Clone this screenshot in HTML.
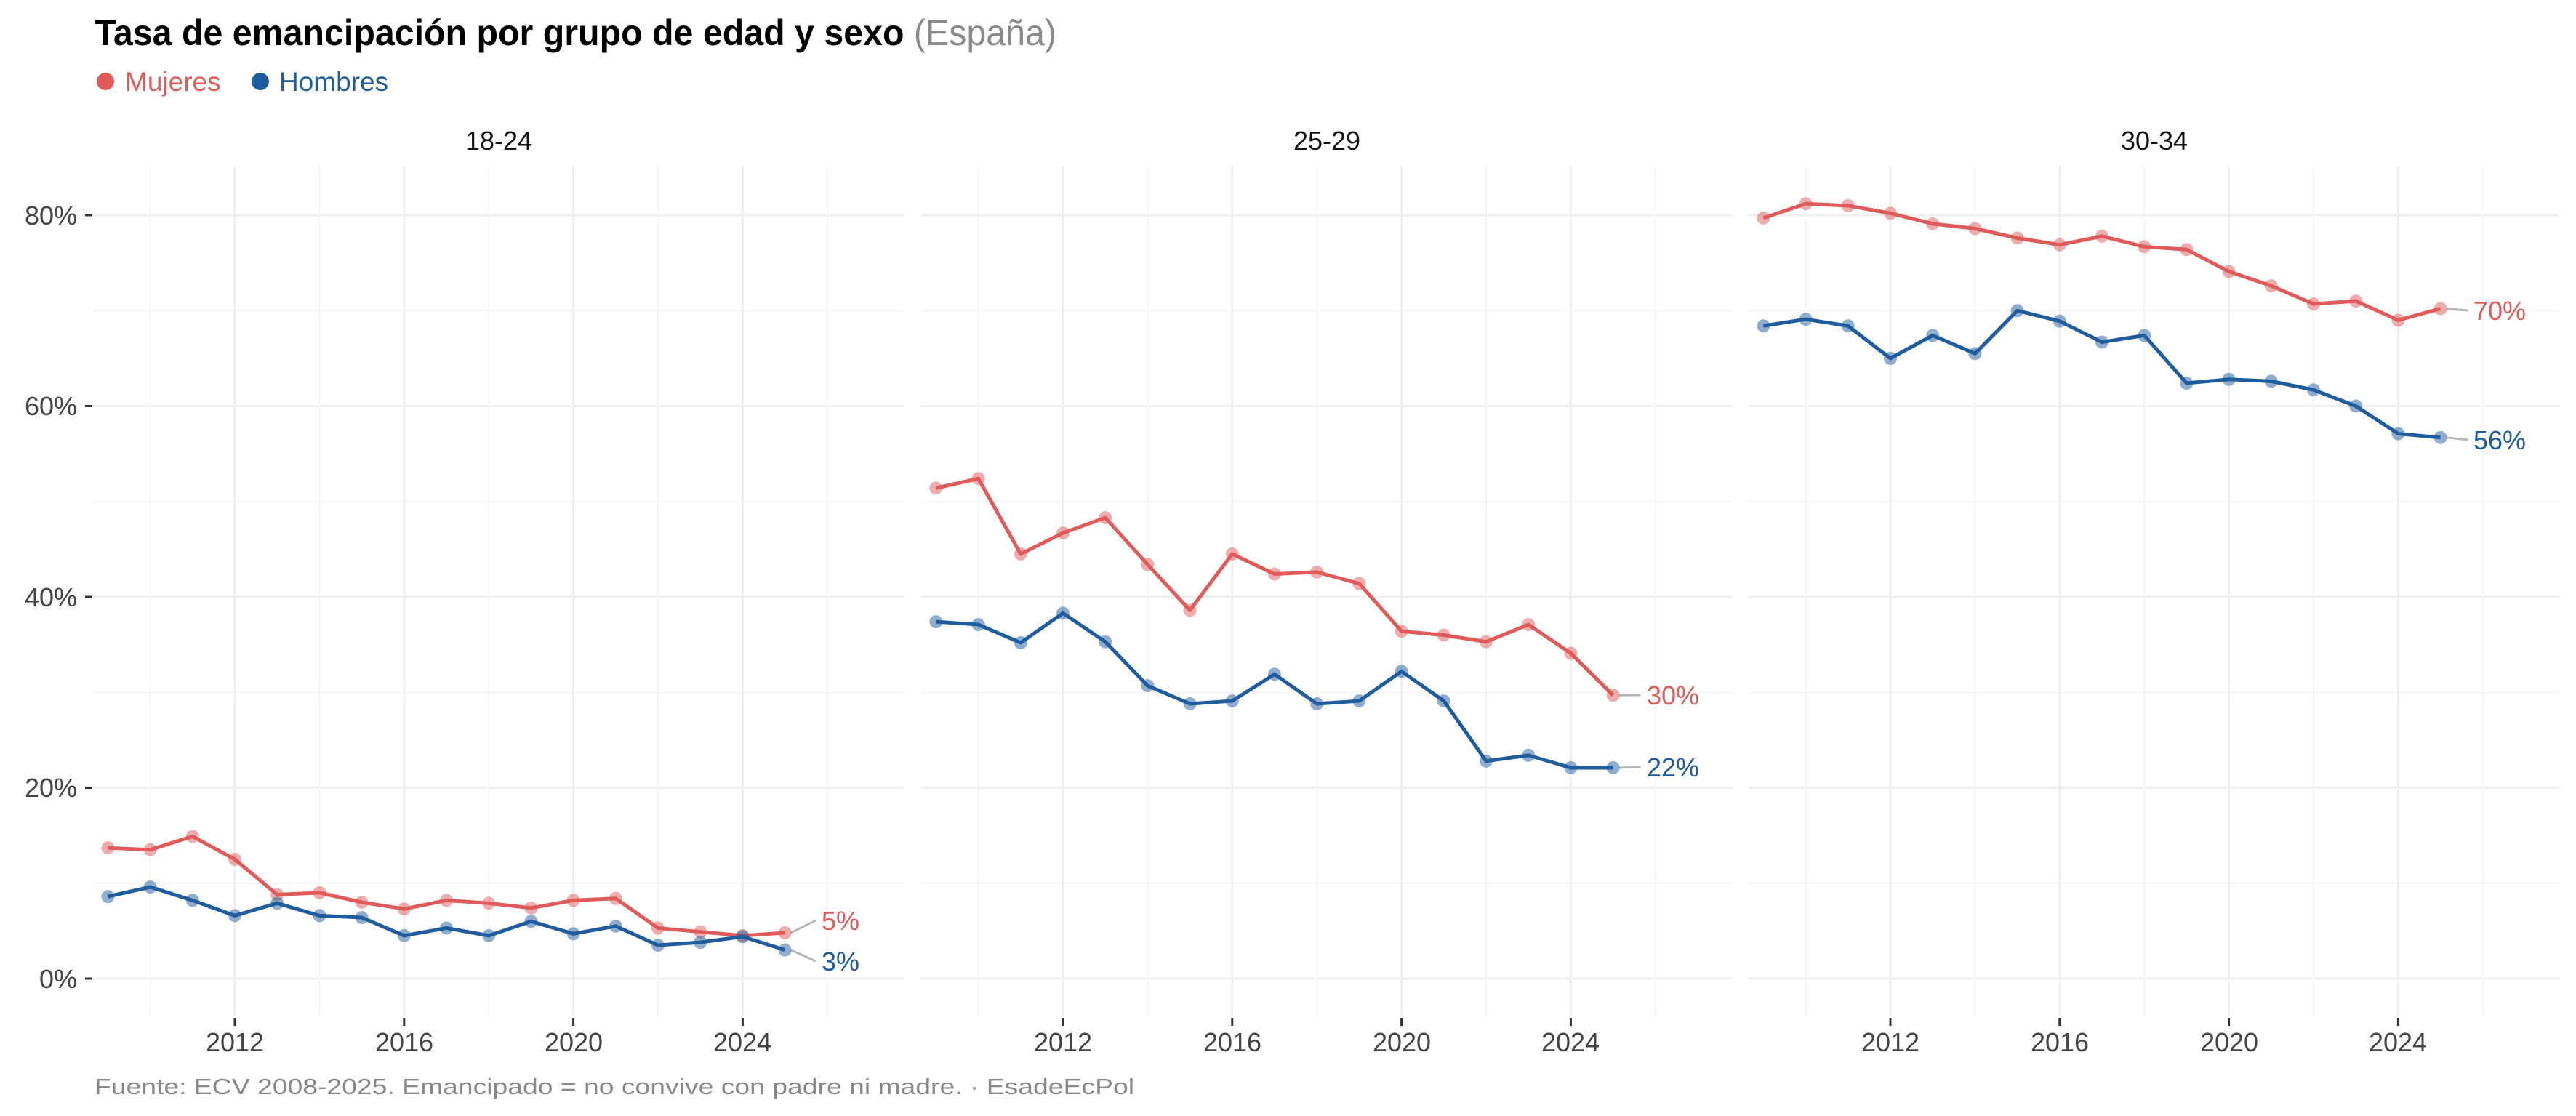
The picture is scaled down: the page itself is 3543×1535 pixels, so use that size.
<!DOCTYPE html>
<html><head><meta charset="utf-8"><style>
html,body{margin:0;padding:0;background:#fff;}
svg{display:block;font-family:"Liberation Sans",sans-serif;}
</style></head><body>
<svg id="s" width="3543" height="1535" viewBox="0 0 3543 1535" xmlns="http://www.w3.org/2000/svg">
<rect width="3543" height="1535" fill="#fff"/>
<g id="grid"></g>
<g id="data"></g>
<text x="130" y="62" font-size="50" font-weight="bold" fill="#000" textLength="1323" lengthAdjust="spacingAndGlyphs">Tasa de emancipación por grupo de edad y sexo <tspan fill="#8a8a8a" font-weight="normal">(España)</tspan></text>
<circle cx="145" cy="112" r="12" fill="#E05A5A"/>
<text x="172" y="125" font-size="37" fill="#E05A5A">Mujeres</text>
<circle cx="358" cy="112" r="12" fill="#1F5C9E"/>
<text x="384" y="125" font-size="37" fill="#1F5C9E">Hombres</text>
<text x="686" y="206" font-size="36" text-anchor="middle" fill="#111">18-24</text>
<text x="1825" y="206" font-size="36" text-anchor="middle" fill="#111">25-29</text>
<text x="2963" y="206" font-size="36" text-anchor="middle" fill="#111">30-34</text>
<g font-size="36" fill="#444" text-anchor="end">
<text x="106" y="309">80%</text>
<text x="106" y="571">60%</text>
<text x="106" y="834">40%</text>
<text x="106" y="1096">20%</text>
<text x="106" y="1359">0%</text>
</g>
<g stroke="#333" stroke-width="3">
<line x1="117" x2="127" y1="296" y2="296"/><line x1="117" x2="127" y1="558.5" y2="558.5"/>
<line x1="117" x2="127" y1="821" y2="821"/><line x1="117" x2="127" y1="1083.5" y2="1083.5"/>
<line x1="117" x2="127" y1="1346" y2="1346"/>
</g>
<g id="xt" font-size="36" fill="#444" text-anchor="middle">
<text x="323" y="1446">2012</text><text x="556" y="1446">2016</text><text x="789" y="1446">2020</text><text x="1021" y="1446">2024</text>
<text x="1462" y="1446">2012</text><text x="1695" y="1446">2016</text><text x="1928" y="1446">2020</text><text x="2160" y="1446">2024</text>
<text x="2600" y="1446">2012</text><text x="2833" y="1446">2016</text><text x="3066" y="1446">2020</text><text x="3298" y="1446">2024</text>
</g>
<g font-size="36">
<text x="1130" y="1279" fill="#E05A5A">5%</text>
<text x="1130" y="1335" fill="#1F5C9E">3%</text>
<text x="2265" y="969" fill="#E05A5A">30%</text>
<text x="2265" y="1068" fill="#1F5C9E">22%</text>
<text x="3402" y="440" fill="#E05A5A">70%</text>
<text x="3402" y="618" fill="#1F5C9E">56%</text>
</g>
<text x="130" y="1505" font-size="31" fill="#888" textLength="1430" lengthAdjust="spacingAndGlyphs">Fuente: ECV 2008-2025. Emancipado = no convive con padre ni madre. · EsadeEcPol</text>
</svg>
<script>
var NS="http://www.w3.org/2000/svg";
function el(p,t,a){var e=document.createElementNS(NS,t);for(var k in a)e.setAttribute(k,a[k]);p.appendChild(e);return e;}
var L=[128,1267,2405],W=1116,T=229,B=1398;
function Y(v){return 1346-v*13.125;}
function X(l,yr){return l+195+(yr-2012)*58.2;}
var g=document.getElementById('grid');
L.forEach(function(l){
 [10,30,50,70].forEach(function(v){el(g,'line',{x1:l,x2:l+W,y1:Y(v),y2:Y(v),stroke:'#f5f5f5','stroke-width':2});});
 [0,20,40,60,80].forEach(function(v){el(g,'line',{x1:l,x2:l+W,y1:Y(v),y2:Y(v),stroke:'#efefef','stroke-width':3});});
 [2010,2014,2018,2022,2026].forEach(function(y){el(g,'line',{x1:X(l,y),x2:X(l,y),y1:T,y2:B,stroke:'#f5f5f5','stroke-width':2});});
 [2012,2016,2020,2024].forEach(function(y){el(g,'line',{x1:X(l,y),x2:X(l,y),y1:T,y2:B,stroke:'#efefef','stroke-width':3});
   el(g,'line',{x1:X(l,y),x2:X(l,y),y1:1400,y2:1411,stroke:'#333','stroke-width':3});});
});
var D=[
 [[13.7,13.5,14.9,12.5,8.8,9.0,8.0,7.3,8.2,7.9,7.4,8.2,8.4,5.3,4.9,4.5,4.8],
  [8.6,9.6,8.2,6.6,7.9,6.6,6.4,4.5,5.3,4.5,6.0,4.7,5.5,3.5,3.8,4.4,3.0]],
 [[51.4,52.4,44.5,46.7,48.3,43.4,38.6,44.5,42.4,42.6,41.4,36.4,36.0,35.3,37.1,34.1,29.7],
  [37.4,37.1,35.2,38.3,35.3,30.7,28.8,29.1,31.9,28.8,29.1,32.2,29.1,22.8,23.4,22.1,22.1]],
 [[79.7,81.2,81.0,80.2,79.1,78.6,77.6,76.9,77.8,76.7,76.4,74.1,72.6,70.7,71.0,69.0,70.2],
  [68.4,69.1,68.4,65.0,67.4,65.5,70.0,68.9,66.7,67.4,62.4,62.8,62.6,61.7,60.0,57.1,56.7]]];
var C=['#E05A5A','#1F5C9E'];
var labY=[[1266,1322],[956,1055],[427,605]];
var d=document.getElementById('data');
D.forEach(function(p,pi){var l=L[pi];
 p.forEach(function(s,si){
  var lx=X(l,2025),ly=Y(s[16]);
  el(d,'line',{x1:lx+8,y1:ly,x2:(pi==0?1122:lx+38),y2:labY[pi][si],stroke:'#b5b5b5','stroke-width':3});
 });
 p.forEach(function(s,si){
  var pts=s.map(function(v,i){return X(l,2009+i)+','+Y(v);}).join(' ');
  el(d,'polyline',{points:pts,fill:'none',stroke:C[si],'stroke-width':5,'stroke-linejoin':'round'});
  s.forEach(function(v,i){el(d,'circle',{cx:X(l,2009+i),cy:Y(v),r:9,fill:C[si],'fill-opacity':0.5});});
 });
});
</script>
</body></html>
